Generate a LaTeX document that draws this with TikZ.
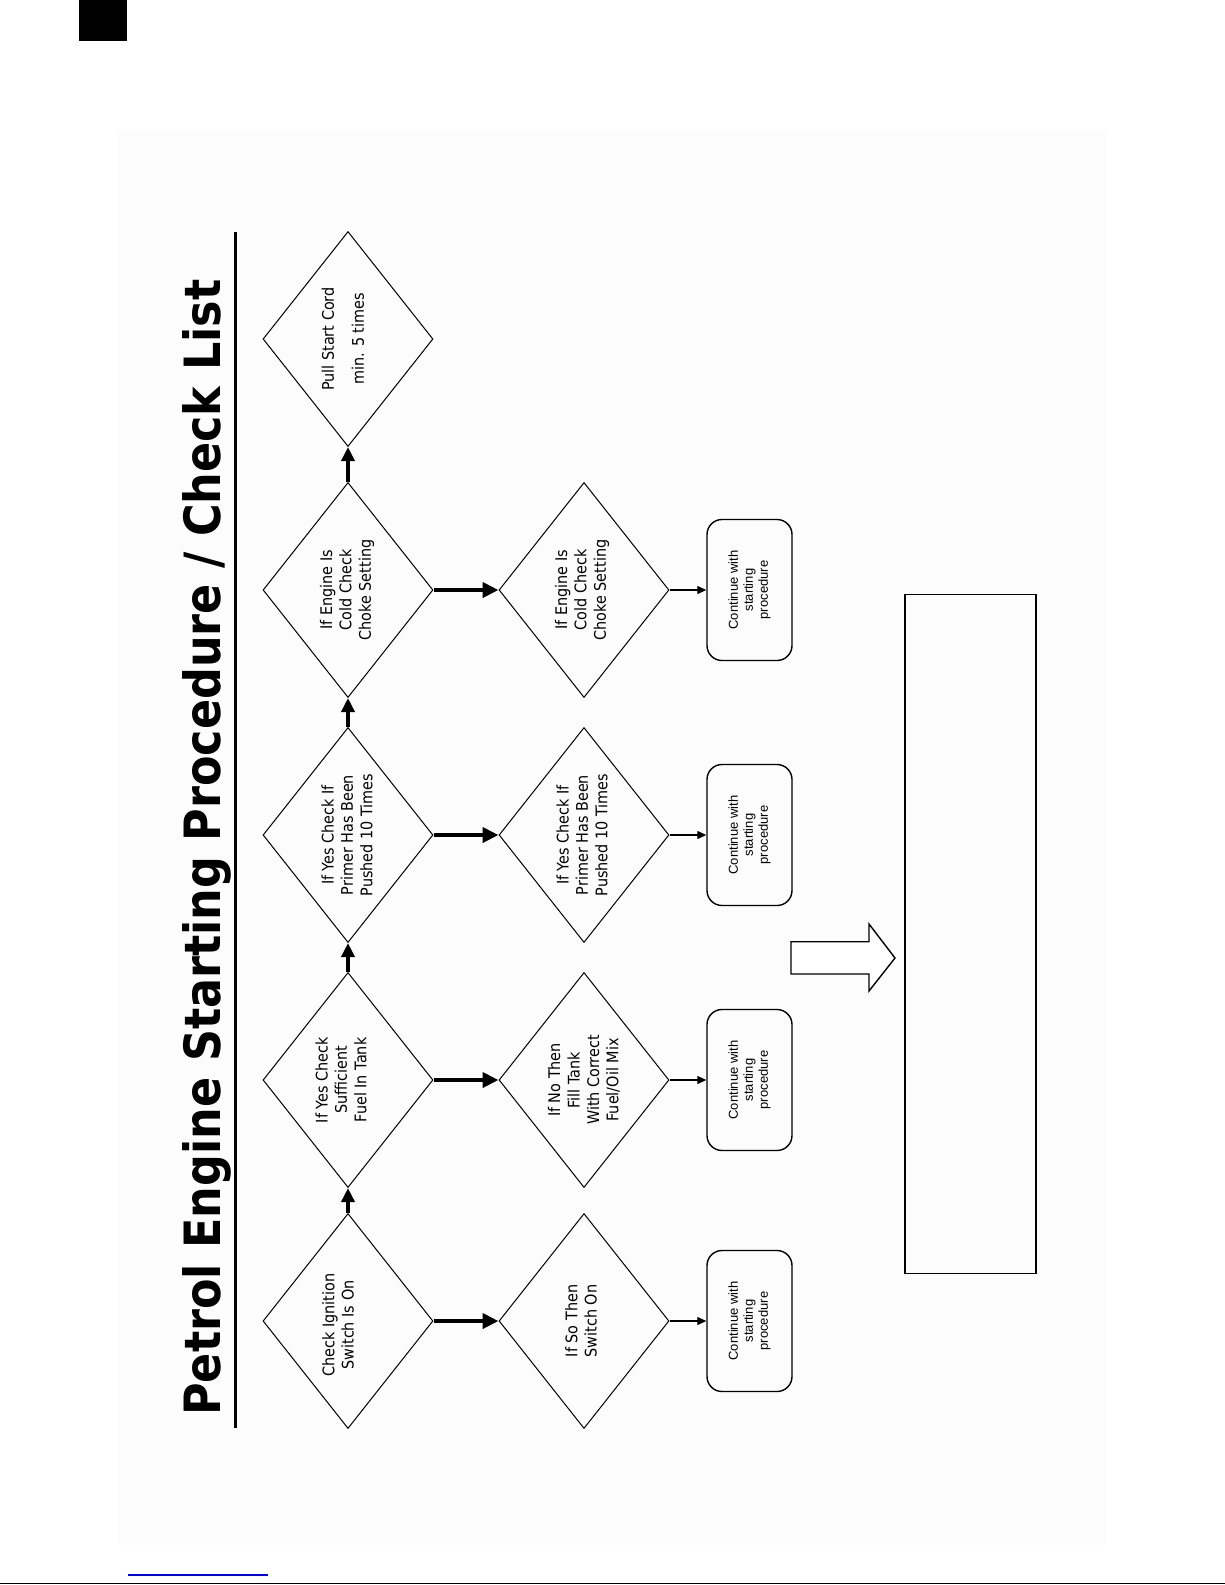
\documentclass[tikz,border=0pt]{standalone}
\usepackage{fontspec}
\usepackage{graphicx}
\usetikzlibrary{shapes.geometric,arrows.meta}
\newfontfamily\titlefont{DejaVu Sans}
\newfontfamily\diafont[FakeStretch=0.9]{DejaVu Sans}
\newfontfamily\boxfont{Liberation Sans}
\definecolor{pagegray}{RGB}{252,252,252}
\definecolor{linkblue}{RGB}{0,0,255}
\begin{document}
\begin{tikzpicture}[x=0.5pt,y=-0.5pt,
  dia/.style={draw, diamond, line width=0.5pt, minimum width=85pt, minimum height=107.5pt, inner sep=0pt},
  dtext/.style={rotate=90, align=center, inner sep=0pt, font=\diafont\fontsize{8}{9.7}\selectfont},
  cbox/.style={draw, rectangle, rounded corners=7.5pt, line width=0.7pt, minimum width=42.5pt, minimum height=70.5pt, inner sep=0pt},
  btext/.style={rotate=90, align=center, inner sep=0pt, font=\boxfont\fontsize{6.5}{7.5}\selectfont},
  bigarrow/.style={line width=2pt, -{Triangle[length=8pt,width=7.5pt]}},
  uparrow/.style={line width=2.2pt, -{Triangle[length=7pt,width=6.5pt]}},
  thinarrow/.style={line width=0.6pt, -{Triangle[length=4.5pt,width=4pt]}}]
\useasboundingbox (0,0) rectangle (1225,1585);
\fill[white] (0,0) rectangle (1225,1585);
\fill[pagegray] (117,130) rectangle (1107,1545);
% header mark and footer
\fill[black] (79,0) rectangle (127,41);
\draw[linkblue, line width=0.7pt] (128,1575) -- (268,1575);
\draw[black, line width=0.75pt] (0,1583.5) -- (1225,1583.5);
% title
\node[rotate=90, anchor=base west, inner sep=0pt] (title) at (220,1416)
  {\resizebox{568pt}{\height}{\titlefont\bfseries\fontsize{25}{30}\selectfont Petrol Engine Starting Procedure / Check List}};
\draw[line width=1.5pt] (235.5,232) -- (235.5,1428);
% top row diamonds
\node[dia] (d1) at (348,1321) {};
\node[dia] (d2) at (348,1080) {};
\node[dia] (d3) at (348,835) {};
\node[dia] (d4) at (348,590) {};
\node[dia] (d5) at (348,339) {};
% second row diamonds
\node[dia] (e1) at (584,1321) {};
\node[dia] (e2) at (584,1080) {};
\node[dia] (e3) at (584,835) {};
\node[dia] (e4) at (584,590) {};
% boxes
\node[cbox] (b1) at (749.5,1321) {};
\node[cbox] (b2) at (749.5,1080) {};
\node[cbox] (b3) at (749.5,835) {};
\node[cbox] (b4) at (749.5,590) {};
% texts
\node[dtext] (t1) at (338,1325) {Check Ignition\\Switch Is On};
\node[dtext] (t2) at (341,1080) {If Yes Check\\Sufficient\\Fuel In Tank};
\node[dtext] (t3) at (347,835) {If Yes Check If\\Primer Has Been\\Pushed 10 Times};
\node[dtext] (t4) at (347,590) {If Engine Is\\Cold Check\\Choke Setting};
\node[dtext, font=\diafont\fontsize{8}{15}\selectfont] (t5) at (343,339) {Pull Start Cord\\min. 5 times};
\node[dtext] (u1) at (581,1321) {If So Then\\Switch On};
\node[dtext] (u2) at (584,1080) {If No Then\\Fill Tank\\With Correct\\Fuel/Oil Mix};
\node[dtext] (u3) at (582,835) {If Yes Check If\\Primer Has Been\\Pushed 10 Times};
\node[dtext] (u4) at (582,590) {If Engine Is\\Cold Check\\Choke Setting};
\node[btext] (c1) at (b1) {Continue with\\starting\\procedure};
\node[btext] (c2) at (b2) {Continue with\\starting\\procedure};
\node[btext] (c3) at (b3) {Continue with\\starting\\procedure};
\node[btext] (c4) at (b4) {Continue with\\starting\\procedure};
% vertical arrows
\draw[uparrow] (d1.north) -- (d2.south);
\draw[uparrow] (d2.north) -- (d3.south);
\draw[uparrow] (d3.north) -- (d4.south);
\draw[uparrow] (d4.north) -- (d5.south);
% horizontal thick arrows
\draw[bigarrow] (d1.east) -- (e1.west);
\draw[bigarrow] (d2.east) -- (e2.west);
\draw[bigarrow] (d3.east) -- (e3.west);
\draw[bigarrow] (d4.east) -- (e4.west);
% thin arrows
\draw[thinarrow] (e1.east) -- (b1.west);
\draw[thinarrow] (e2.east) -- (b2.west);
\draw[thinarrow] (e3.east) -- (b3.west);
\draw[thinarrow] (e4.east) -- (b4.west);
% big empty panel
\node[draw, rectangle, line width=0.7pt, minimum width=65.5pt, minimum height=339.75pt, inner sep=0pt] (panel) at (970.5,934) {};
% block arrow
\draw[line width=0.7pt, fill=white] (791,941.7) -- (869,941.7) -- (869,924) -- (895,958) -- (869,991) -- (869,974) -- (791,974) -- cycle;
\end{tikzpicture}
\end{document}
